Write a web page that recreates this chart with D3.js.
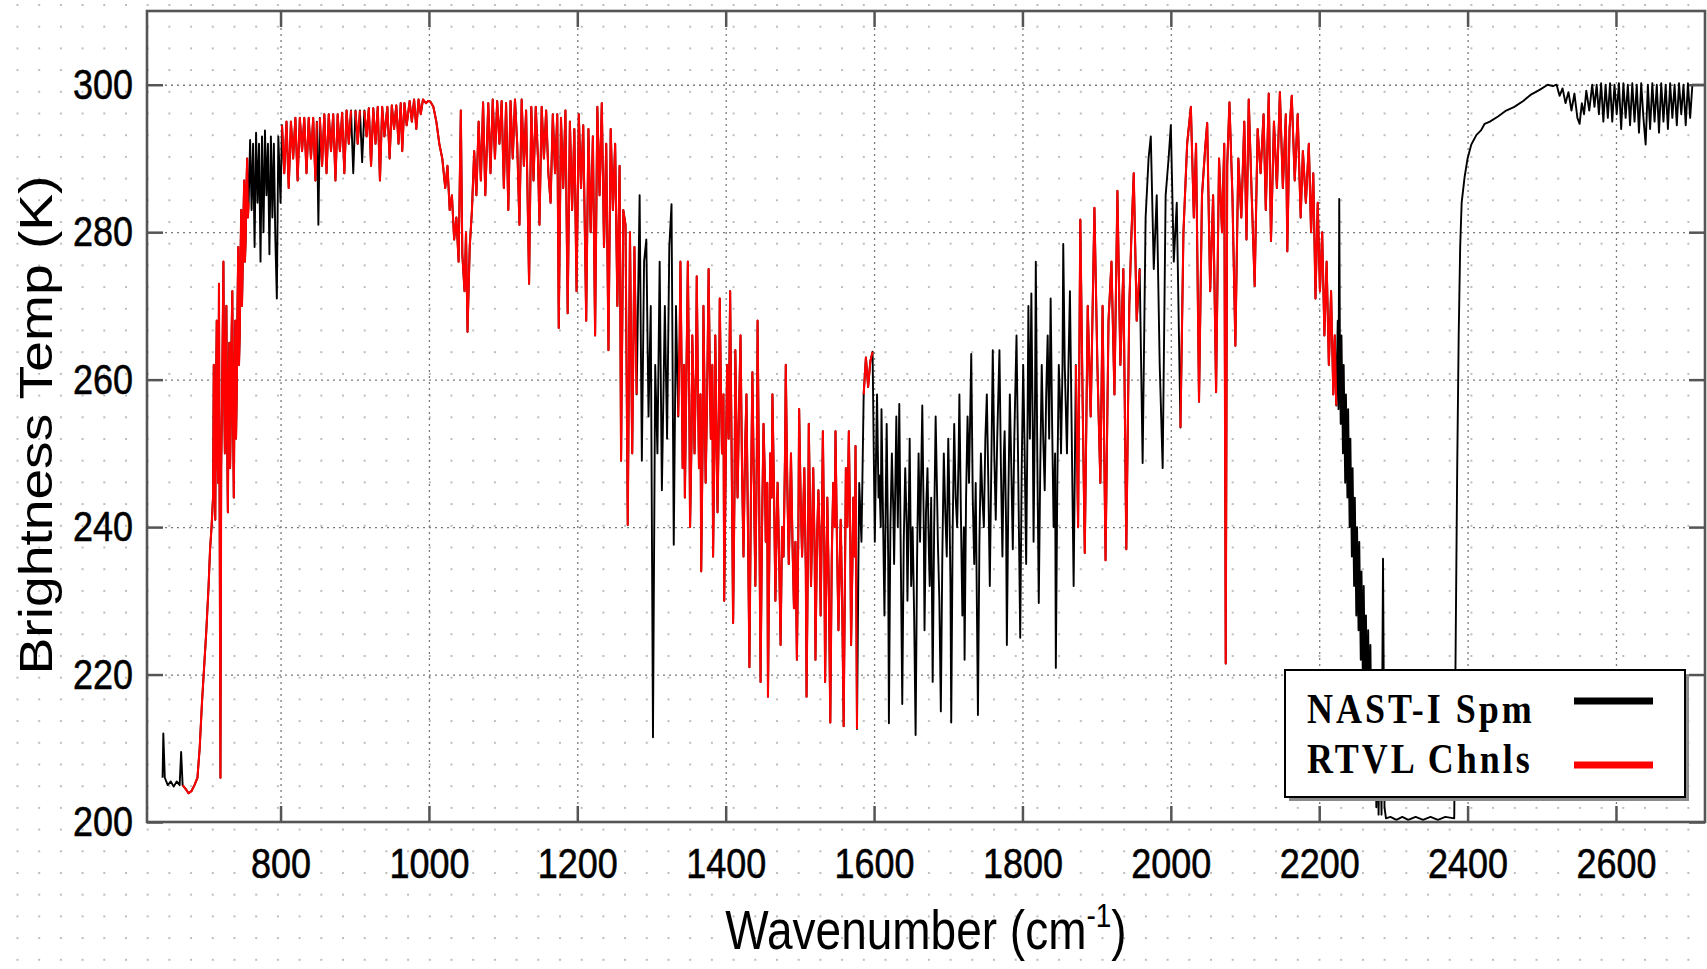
<!DOCTYPE html>
<html>
<head>
<meta charset="utf-8">
<script src="https://cdn.jsdelivr.net/npm/d3@7"></script>
<style>
  body { margin: 0; background: #fff; }
  svg { display: block; }
</style>
</head>
<body>
<script>
// Brightness temperature spectrum, [wavenumber cm-1, Tb K]
const specLW = [ // 640-1000
  [641,206],[642,212],[644,206],[648,205],[652,205.5],[656,204.8],[660,205.5],[664,205],[666,209.5],[668,205],[672,204.5],[676,203.9],[680,204.2],[684,205],[688,206],[691,210],[694,216],[697,221],[700,226],[703,232],[705,237],[707,240],[709,244],[710,262],[712,241],[713,258],[714,268],[715,250],[716,246],[717,273],[719,206],[720,248],[721,256],[722,266],[723,276],[724,258],[725,250],[726,262],[727,270],[728,252],[729,242],[730,258],[731,265],[732,248],[733,255],[734,266],[735,272],[736,254],[737,244],[738,258],[739,268],[740,252],[741,258],[742,270],[743,278],[744,262],[745,266],[746,276],[747,283],[748,270],[749,275],[750,282],[751,287],[752,276],[753,279],[754,286],[755,290],[756,282],[757,284],[759,292.5],
  [761,283],[763,292],[765,278],[767,293.5],[769,284],[771,292],[773,276],[775,293],[777,280],[779,293.8],[781,285],[783,292],[785,277],[787,293],[789,282],[791,292],[793,279],[795,271],[797,293],[800,284],[802,294.5],[805,288],[808,295],[811,286],[814,295],[817,290],[820,295.5],[823,287],[826,295.5],[829,291],[832,295.5],[835,288],[838,295.5],[841,290],[844,295.5],[847,287],[849,295],[851,281],[853,295.5],[856,289],[859,296],[862,288],[865,296],[868,291],[871,296],[874,287],[877,296],[880,291],[883,296.2],[886,288],[889,296.5],[892,292],[895,296.5],[898,288],[901,296.5],[904,292],[907,296.5],[910,289.5],[913,296.5],[916,293],[919,296.8],[922,289],[925,296.8],[928,292],[931,297],[934,287],[937,297],[940,293],[944,297],[947,290],[950,297.2],[953,294],[956,297.2],[959,292],[962,297.5],[964,291],[967,297.5],[970,294.5],[974,297.8],[977,295],[980,298],[983,294],[986,298],[989,296],[992,298],[996,297.5],[999,297.8]
]
const specO3 = [ // 1000-1260
  [1002,297.7],[1006,297],[1010,295],[1014,292],[1018,290],[1022,286],[1025,289],[1028,283],[1031,285],[1034,279],[1037,282],[1040,276],[1043,296.5],[1045,277],[1048,272],[1050,280],[1052,266.5],[1055,278],[1058,283],[1061,291],[1064,285],[1067,295],[1070,287],[1073,297.6],[1076,285],[1080,297.5],[1083,288],[1086,298],[1089,290],[1092,297.8],[1095,292],[1098,297.8],[1101,286],[1104,297.5],[1107,283],[1110,297.8],[1113,290],[1116,298],[1119,292],[1122,281],[1125,298],[1128,289],[1131,296.5],[1135,273],[1138,297],[1141,287],[1144,297],[1147,290],[1149,281],[1152,297],[1155,290],[1158,296.5],[1161,288],[1164,284],[1167,296],[1170,288],[1173,296],[1175,267],[1178,295.5],[1181,286],[1184,296.5],[1187,269],[1190,295],[1193,283],[1196,294],[1199,272],[1202,296],[1205,286],[1208,294.5],[1212,268],[1215,294],[1218,280],[1221,293],[1224,266],[1227,297],[1230,285],[1233,297.5],[1236,278],[1239,292],[1242,264],[1245,294],[1248,283],[1251,292],[1254,270],[1257,289],[1259,249]
]
const specH2O = [ // 1260-1600
  [1262,283],[1265,281],[1268,240.3],[1271,280],[1274,250],[1277,278],[1280,258],[1284,285],[1287,249],[1290,276],[1293,279],[1296,255],[1299,270],[1302,211.5],[1305,262],[1308,250],[1311,276],[1314,245],[1318,270],[1321,252],[1324,278],[1327,283.8],[1330,237.6],[1333,270],
  [1336,255],[1338,266],[1339,276],[1341,258],[1342,248],[1344,262],[1345,244],[1347,260],[1349,276],[1351,256],[1352,240],[1354,252],[1355,266],[1357,256],[1358,250],[1360,262],[1361,274],[1363,256],[1364,248],[1366,258],[1367,234],[1369,252],[1370,270],[1372,254],[1373,246],[1375,258],[1377,275],[1379,258],[1380,252],[1382,262],[1383,236],[1385,252],[1386,266],[1388,250],[1389,242],[1391,256],[1392,271],[1394,256],[1395,250],[1397,258],[1398,230],[1400,248],[1402,262],[1404,252],[1406,272],[1408,250],[1410,227],[1412,246],[1413,264],[1415,250],[1416,244],[1418,256],[1420,266],[1422,248],[1424,236],[1426,250],[1428,258],[1430,240],[1432,221],[1434,244],[1436,261],[1438,246],[1440,232],[1442,250],[1443,268],[1445,246],[1447,219],[1449,240],[1451,254],[1453,246],[1454,238],[1456,246],[1457,217],[1459,238],[1460,250],[1462,244],[1463,258],[1465,246],[1467,230],[1469,242],[1470,246],[1472,236],[1474,224],[1476,240],[1478,236],[1480,250],[1481,262],[1483,246],[1485,235],[1487,244],[1488,250],[1490,238],[1492,229],[1494,238],[1496,222],[1498,240],[1499,256],[1501,244],[1503,236],[1505,244],[1506,248],[1508,234],[1509,217],[1511,238],[1512,254],[1514,240],[1515,232],[1517,242],[1518,248],[1520,236],[1521,222],[1523,238],[1525,245],[1527,236],[1528,228],[1530,244],[1531,253],[1533,236],[1534,219],[1536,236],[1537,244],[1539,232],[1541,213.5],[1543,236],[1545,246],[1547,240],[1548,253],[1550,238],[1552,226],[1554,236],[1555,241],[1557,230],[1559,213],[1561,236],[1562,248],[1564,240],[1566,253],[1568,238],[1569,224],[1571,236],[1572,244],[1574,236],[1575,251],[1577,212.6],[1579,236],[1580,246],[1583,238],[1586,258],[1589,263],[1592,259],[1595,262.5],[1598,263.8]
]
const specCH4 = [ // 1600-2010
  [1601,238],[1603,252],[1604,258],[1606,244],[1607,247],[1609,240],[1610,256],[1612,242],[1614,228],[1616,246],[1617,254],[1619,236],[1620,213.4],[1622,240],[1624,250],[1626,242],[1627,235],[1629,248],[1630,255],[1632,240],[1634,256.7],[1636,236],[1638,216],[1640,238],[1642,248],[1644,240],[1645,230],[1647,244],[1648,252],[1650,232],[1652,240],[1654,228],[1656,211.8],[1658,236],[1660,250],[1662,238],[1665,256.5],[1667,240],[1668,226],[1670,242],[1672,248],[1674,236],[1675,232],[1677,244],[1679,219],[1681,240],[1683,255],[1685,244],[1686,238],[1688,230],[1690,215],[1692,236],[1694,250],[1696,242],[1698,236],[1700,252],[1701,247],[1703,232],[1704,213.5],[1706,240],[1708,254],[1710,244],[1712,240],[1714,250],[1715,258],[1717,242],[1719,228],[1721,240],[1722,222],[1724,244],[1726,255],[1728,246],[1731,263.5],[1733,244],[1735,235],[1737,246],[1740,214.5],[1742,238],[1744,250],[1746,244],[1748,240],[1750,252],[1752,258],[1754,246],[1756,232],[1758,248],[1760,264],[1762,250],[1764,241],[1766,252],[1769,264],[1771,248],[1773,236],[1775,250],[1776,253],[1778,240],[1779,224],[1781,244],[1783,258],[1785,248],[1787,237],[1789,252],[1792,266],[1794,250],[1797,225],[1799,248],[1801,262],[1803,250],[1805,235],[1807,256],[1808,270],[1810,252],[1812,271.7],[1814,252],[1815,238],[1817,258],[1818,276],[1820,250],[1822,229.7],[1824,248],[1826,262],[1828,252],[1830,245],[1832,258],[1834,266],[1836,252],[1838,271],[1840,254],[1842,240],[1844,250],[1845,220.9],[1847,246],[1849,262],[1851,256],[1852,250],[1854,262],[1855,278.4],[1857,262],[1860,250],[1862,262],[1864,272],[1866,256],[1869,232],
  [1872,262],[1875,240],[1878,281.7],[1881,258],[1884,236.5],[1888,270],[1892,255],[1897,283.3],[1901,262],[1905,246],[1908,270],[1912,235.5],[1916,268],[1920,276],[1924,258],[1928,285.6],[1932,262],[1936,275],[1940,237],[1944,270],[1947,280],[1950,288],[1954,268],[1958,275],[1962,248.7],[1966,282],[1970,290],[1973,293],[1977,275],[1981,285],[1985,262],[1989,248],[1993,285],[1997,290],[2000,294.5],[2004,276],[2008,284]
]
const specSW = [ // 2010-2290
  [2013,253.5],[2017,280],[2022,292],[2027,297],[2031,282],[2034,292],[2038,257],[2042,285],[2046,291],[2049,294.8],[2053,272],[2057,285],[2061,258.3],[2065,290],[2069,280],[2072,292],[2074,221.5],[2076,289],[2079,297.6],[2083,285],[2087,264.6],[2091,290],[2095,282],[2099,295],[2102,279],[2105,298],[2109,285],[2113,272.7],[2117,294],[2121,288],[2125,296],[2128,283],[2132,298.8],[2135,278.8],[2139,295],[2143,286],[2147,299],[2151,286],[2155,296],[2157,277.4],[2160,294],[2163,298.5],[2167,287],[2171,296],[2175,282],[2178,291],[2182,284],[2186,292],[2189,280],[2192,288],[2195,271],[2198,284],[2201,272],[2204,280],[2207,266],[2210,276],[2213,262],[2216,272],[2219,258],[2221,266],[2223,256.5],
  [2225,268],[2226,256],[2227,284.5],[2228,262],[2229,254],[2230,266],[2232,250],[2233,262],[2235,246],[2236,258],[2238,244],[2239,256],[2241,240],[2242,252],[2244,236],[2245,248],[2247,232],[2248,244],[2250,228],[2251,240],[2253,226],[2254,238],[2256,222],[2257,234],[2259,218],[2260,232],[2262,216],[2263,228],[2265,212],[2266,226],[2268,210],[2269,224],[2271,206],[2272,220],[2274,204],[2275,218],[2277,202],[2278,216],[2280,201],[2282,214],[2284,201],[2286,235.7],[2288,202],[2290,200.5]
]
const specCO2 = [ // 2290-2720
  [2296,200.7],[2304,200.3],[2312,200.7],[2320,200.3],[2330,200.7],[2340,200.3],[2350,200.7],[2360,200.3],[2370,200.7],[2382,200.5],[2384,225],[2386,248],[2388,266],[2390,278],[2392,284],[2396,287.5],[2400,290],[2405,291.9],[2412,293.2],[2418,293.8],[2423,294.7],[2430,295],[2441,295.7],[2452,296.5],[2463,297],[2475,297.8],[2486,298.7],[2497,299.3],[2508,300],[2515,299.8],[2520,300],[2524,298.5],[2528,299.5],[2532,297.5],[2536,299],[2540,296.5],[2544,298.8],[2548,295.5],[2551,294.7],[2554,297.5],[2557,296],[2560,299.2],[2564,296.5],[2568,300],[2571,297],[2574,300],[2577,296],[2580,300.2],[2583,295],[2586,300],[2589,295.5],[2592,300.2],[2595,295],[2598,300],[2601,296],[2604,300.2],[2607,294],[2610,300.2],[2613,295.5],[2616,300],[2619,294.5],[2622,300.2],[2625,295],[2628,300],[2631,293.5],[2634,300.2],[2637,295.5],[2640,291.9],[2643,300],[2646,294],[2649,300.2],[2652,295],[2655,300],[2658,293.5],[2661,300.2],[2664,295],[2667,300],[2670,294],[2673,300.2],[2676,295.5],[2679,300],[2682,294.5],[2685,300.2],[2688,296],[2691,300],[2694,294.5],[2697,300.2],[2700,295.5],[2703,300],[2710,300],[2720,300]
]

// Retrieval channel bands (wavenumber ranges drawn in red)
const rtvlBands = [[668,758],[801,849],[852,896],[899,909],[912,1281],[1336,1578],[1585,1600],[1870,1960],[2012,2223]]

const xTicks = [800, 1000, 1200, 1400, 1600, 1800, 2000, 2200, 2400, 2600]
const yTicks = [200, 220, 240, 260, 280, 300]
const seriesNames = ['NAST-I Spm', 'RTVL Chnls']
const seriesColors = ['#000000', '#ff0000']

const width = 1707
const height = 969
const plot = {left: 147, right: 1705, top: 11, bottom: 822}
const sansFont = "'Liberation Sans', Arial, Helvetica, sans-serif"
const serifFont = "'Liberation Serif', 'Times New Roman', serif"

const svg = d3.select('body').append('svg')
    .attr('width', width)
    .attr('height', height)

const x = d3.scaleLinear().domain([620, 2720]).range([plot.left, plot.right])
const y = d3.scaleLinear().domain([200, 310]).range([plot.bottom, plot.top])

// dotted paper background
const defs = svg.append('defs')
const pat = defs.append('pattern')
    .attr('id', 'dots')
    .attr('patternUnits', 'userSpaceOnUse')
    .attr('width', 21.7).attr('height', 21.7)
    .attr('x', 16.5).attr('y', 4)
pat.append('rect').attr('width', 2).attr('height', 2).attr('fill', '#bdbdbd')

defs.append('clipPath').attr('id', 'plotclip')
    .append('rect')
    .attr('x', plot.left).attr('y', plot.top)
    .attr('width', plot.right - plot.left).attr('height', plot.bottom - plot.top)

svg.append('rect').attr('width', width).attr('height', height).attr('fill', '#fff')
svg.append('rect').attr('width', width).attr('height', height).attr('fill', 'url(#dots)')

// grid
const gridX = svg.append('g')
    .attr('transform', `translate(0,${plot.bottom})`)
    .call(d3.axisBottom(x).tickValues(xTicks).tickSize(-(plot.bottom - plot.top)).tickFormat(''))
const gridY = svg.append('g')
    .attr('transform', `translate(${plot.left},0)`)
    .call(d3.axisLeft(y).tickValues(yTicks.slice(1)).tickSize(-(plot.right - plot.left)).tickFormat(''))
;[gridX, gridY].forEach(g => {
    g.select('.domain').remove()
    g.selectAll('line')
        .attr('stroke', '#7a7a7a')
        .attr('stroke-width', 1.3)
        .attr('stroke-dasharray', '2,4')
})

// spectrum
const spectrum = [].concat(specLW, specO3, specH2O, specCH4, specSW, specCO2)
const line = d3.line().x(d => x(d[0])).y(d => y(d[1]))

const lines = svg.append('g').attr('clip-path', 'url(#plotclip)')
lines.append('path')
    .datum(spectrum)
    .attr('d', line)
    .attr('fill', 'none')
    .attr('stroke', seriesColors[0])
    .attr('stroke-width', 1.9)
    .attr('stroke-linejoin', 'round')

lines.selectAll('.rtvl')
    .data(rtvlBands.map(b => spectrum.filter(d => d[0] >= b[0] && d[0] <= b[1])))
    .enter()
    .append('path')
        .attr('class', 'rtvl')
        .attr('d', line)
        .attr('fill', 'none')
        .attr('stroke', seriesColors[1])
        .attr('stroke-width', 2.1)
        .attr('stroke-linejoin', 'round')

// axes with inward ticks on all sides
const fmt = d3.format('d')
const axB = svg.append('g')
    .attr('transform', `translate(0,${plot.bottom})`)
    .call(d3.axisBottom(x).tickValues(xTicks).tickSize(-16).tickPadding(22).tickFormat(fmt))
const axL = svg.append('g')
    .attr('transform', `translate(${plot.left},0)`)
    .call(d3.axisLeft(y).tickValues(yTicks).tickSize(-16).tickPadding(14).tickFormat(fmt))
const axT = svg.append('g')
    .attr('transform', `translate(0,${plot.top})`)
    .call(d3.axisTop(x).tickValues(xTicks).tickSize(-16).tickFormat(''))
const axR = svg.append('g')
    .attr('transform', `translate(${plot.right},0)`)
    .call(d3.axisRight(y).tickValues(yTicks).tickSize(-16).tickFormat(''))

;[axB, axL, axT, axR].forEach(g => {
    g.select('.domain').remove()
    g.selectAll('line').attr('stroke', '#555').attr('stroke-width', 2.5)
    g.selectAll('text')
        .attr('fill', '#000')
        .attr('stroke', '#000')
        .attr('stroke-width', 0.5)
        .style('font-family', sansFont)
        .style('font-size', '36px')
        .attr('transform', 'scale(1,1.18)')
})

svg.append('rect')
    .attr('x', plot.left).attr('y', plot.top)
    .attr('width', plot.right - plot.left).attr('height', plot.bottom - plot.top)
    .attr('fill', 'none')
    .attr('stroke', '#555')
    .attr('stroke-width', 2.6)

// axis titles
const xTitle = svg.append('g')
    .attr('transform', `translate(${(plot.left + plot.right) / 2},949) scale(1,1.2)`)
    .append('text')
    .attr('text-anchor', 'middle')
    .style('font-family', sansFont)
    .style('font-size', '46px')
xTitle.append('tspan').text('Wavenumber (cm')
xTitle.append('tspan').text('-1').attr('dy', -18).style('font-size', '28px')
xTitle.append('tspan').text(')').attr('dy', 18)

svg.append('g')
    .attr('transform', 'translate(52,425) scale(1,1.2) rotate(-90)')
    .append('text')
    .attr('text-anchor', 'middle')
    .style('font-family', sansFont)
    .style('font-size', '46px')
    .text('Brightness Temp (K)')

// legend
const legend = svg.append('g').attr('transform', 'translate(1285,670)')
legend.append('rect')
    .attr('x', 4).attr('y', 4).attr('width', 400).attr('height', 127)
    .attr('fill', '#8a8a8a')
legend.append('rect')
    .attr('width', 400).attr('height', 127)
    .attr('fill', '#fff').attr('stroke', '#000').attr('stroke-width', 2)

const items = legend.selectAll('.item')
    .data(seriesNames)
    .enter()
    .append('g')
        .attr('class', 'item')

items.append('g')
    .attr('transform', (d, i) => `translate(22,${53 + i * 50}) scale(1,1.15)`)
    .append('text')
    .style('font-family', serifFont)
    .style('font-weight', 'bold')
    .style('font-size', '36px')
    .style('letter-spacing', '3px')
    .text(d => d)

items.append('line')
    .attr('x1', 289).attr('x2', 368)
    .attr('y1', (d, i) => 31 + i * 64).attr('y2', (d, i) => 31 + i * 64)
    .attr('stroke', (d, i) => seriesColors[i])
    .attr('stroke-width', 7)
</script>
</body>
</html>
